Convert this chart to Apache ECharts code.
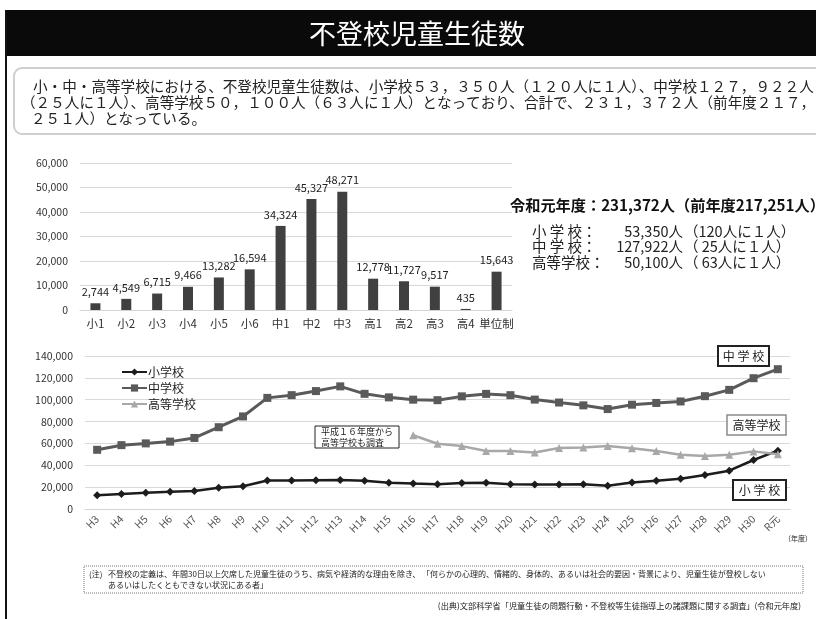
<!DOCTYPE html>
<html>
<head>
<meta charset="utf-8">
<script src="https://cdn.jsdelivr.net/npm/echarts@6/dist/echarts.min.js"></script>
<style>
  html, body { margin: 0; padding: 0; background: #fff; }
  #chart { width: 816px; height: 619px; }
</style>
</head>
<body>
<div id="chart"></div>
<script>
// 学年別 不登校児童生徒数（令和元年度）
const gradeCategories = ['小1','小2','小3','小4','小5','小6','中1','中2','中3','高1','高2','高3','高4','単位制'];
const gradeValues = [2744, 4549, 6715, 9466, 13282, 16594, 34324, 45327, 48271, 12778, 11727, 9517, 435, 15643];

// 年度別推移
const years = ['H3','H4','H5','H6','H7','H8','H9','H10','H11','H12','H13','H14','H15','H16','H17','H18','H19','H20','H21','H22','H23','H24','H25','H26','H27','H28','H29','H30','R元'];
const elementary = [12645, 13710, 14769, 15786, 16569, 19498, 20765, 26017, 26047, 26373, 26511, 25869, 24077, 23318, 22709, 23825, 23927, 22652, 22327, 22463, 22622, 21243, 24175, 25864, 27583, 31151, 35032, 44841, 53350];
const juniorHigh = [54172, 58421, 60039, 61663, 65022, 74853, 84701, 101675, 104180, 107913, 112211, 105383, 102149, 100040, 99578, 103069, 105328, 104153, 100105, 97428, 94836, 91446, 95442, 97033, 98408, 103235, 108999, 119687, 127922];
// 高等学校は平成16年度から調査
const highSchool = [null, null, null, null, null, null, null, null, null, null, null, null, null, 67500, 59680, 57544, 53041, 53024, 51728, 55776, 56361, 57664, 55655, 53156, 49563, 48565, 49643, 52723, 50100];

const JP = '"Noto Sans CJK JP", "Noto Sans", sans-serif';
const fmt = v => Number(v).toLocaleString('en-US');

const chart = echarts.init(document.getElementById('chart'), null, { renderer: 'canvas' });

function txt(x, y, text, size, opts) {
  opts = opts || {};
  return {
    type: 'text', x: x, y: y, z: 100,
    style: {
      text: text,
      font: (opts.weight || 'normal') + ' ' + size + 'px ' + JP,
      fill: opts.fill || '#222',
      textAlign: opts.align || 'left',
      textVerticalAlign: 'middle'
    }
  };
}

function box(x, y, w, h, stroke, lw, r, dash) {
  return {
    type: 'rect', z: 90,
    shape: { x: x, y: y, width: w, height: h, r: r || 0 },
    style: { fill: '#fff', stroke: stroke, lineWidth: lw, lineDash: dash || null }
  };
}

const graphics = [
  // frame line on the left
  { type: 'line', z: 100, shape: { x1: 6, y1: 10, x2: 6, y2: 619 }, style: { stroke: '#111', lineWidth: 2 } },
  // title bar
  { type: 'rect', z: 80, shape: { x: 5, y: 10, width: 811, height: 46 }, style: { fill: '#0a0a0a' } },
  txt(417, 34, '不登校児童生徒数', 27, { fill: '#fff', align: 'center' }),
  // summary box
  { type: 'rect', z: 80, shape: { x: 14, y: 68, width: 830, height: 66, r: 8 }, style: { fill: '#fff', stroke: '#cfcfcf', lineWidth: 2 } },
  txt(33, 86, '小・中・高等学校における、不登校児童生徒数は、小学校５３，３５０人（１２０人に１人）、中学校１２７，９２２人', 14.6),
  txt(21, 102, '（２５人に１人）、高等学校５０，１００人（６３人に１人）となっており、合計で、２３１，３７２人（前年度２１７，', 14.6),
  txt(31, 118, '２５１人）となっている。', 14.6),
  // totals beside the bar chart
  txt(510, 205, '令和元年度：231,372人（前年度217,251人）', 15.2, { weight: 'bold', fill: '#111' }),
  txt(532, 231, '小 学 校：', 14.5),
  txt(683, 231, '53,350人', 14.5, { align: 'right' }),
  txt(684, 231, '（120人に１人）', 14.5),
  txt(532, 246, '中 学 校：', 14.5),
  txt(683, 246, '127,922人', 14.5, { align: 'right' }),
  txt(684, 246, '（ 25人に１人）', 14.5),
  txt(532, 262, '高等学校：', 14.5),
  txt(683, 262, '50,100人', 14.5, { align: 'right' }),
  txt(684, 262, '（ 63人に１人）', 14.5),
  // line chart notes
  box(315, 426, 84, 22, '#222', 1),
  txt(321, 432, '平成１６年度から', 9),
  txt(321, 443, '高等学校も調査', 9),
  box(718, 346, 51, 20, '#222', 2),
  txt(743.5, 356, '中 学 校', 12, { align: 'center' }),
  box(727, 415, 59, 20, '#8a8a8a', 1.5),
  txt(756.5, 425, '高等学校', 12, { align: 'center' }),
  box(733, 480, 53, 20, '#222', 2),
  txt(759.5, 490, '小 学 校', 12, { align: 'center' }),
  txt(798, 538, '（年度）', 7, { align: 'center' }),
  // definition note
  box(84, 566, 719, 27, '#777', 1, 0, [1, 1]),
  txt(89, 574, '(注)', 8),
  txt(108, 574, '不登校の定義は、年間30日以上欠席した児童生徒のうち、病気や経済的な理由を除き、 「何らかの心理的、情緒的、身体的、あるいは社会的要因・背景により、児童生徒が登校しない', 8),
  txt(108, 585, 'あるいはしたくともできない状況にある者」', 8),
  txt(801, 606, '(出典)文部科学省「児童生徒の問題行動・不登校等生徒指導上の諸課題に関する調査」(令和元年度)', 8.2, { align: 'right' })
];

const option = {
  backgroundColor: '#fff',
  animation: false,
  textStyle: { fontFamily: JP },
  grid: [
    { left: 80, right: 304, top: 163, height: 147 },
    { left: 85, right: 26, top: 356, height: 153 }
  ],
  legend: {
    orient: 'vertical', left: 116, top: 361,
    itemWidth: 25, itemHeight: 9, itemGap: 4,
    textStyle: { fontSize: 12, color: '#222', fontFamily: JP, padding: [0, 0, 0, -4] },
    data: ['小学校', '中学校', '高等学校']
  },
  xAxis: [
    {
      type: 'category', gridIndex: 0, data: gradeCategories,
      axisLine: { show: true, lineStyle: { color: '#d4d4d4' } },
      axisTick: { show: false },
      axisLabel: { fontSize: 11.5, color: '#333', margin: 8, interval: 0 }
    },
    {
      type: 'category', gridIndex: 1, data: years,
      axisLine: { show: true, lineStyle: { color: '#d4d4d4' } },
      axisTick: { show: false },
      axisLabel: { fontSize: 10.5, color: '#555', rotate: 45, margin: 8, interval: 0 }
    }
  ],
  yAxis: [
    {
      type: 'value', gridIndex: 0, min: 0, max: 60000, interval: 10000,
      axisLine: { show: false }, axisTick: { show: false },
      splitLine: { lineStyle: { color: '#d9d9d9' } },
      axisLabel: { fontSize: 10.5, color: '#333', margin: 12, formatter: fmt }
    },
    {
      type: 'value', gridIndex: 1, min: 0, max: 140000, interval: 20000,
      axisLine: { show: false }, axisTick: { show: false },
      splitLine: { lineStyle: { color: '#d9d9d9' } },
      axisLabel: { fontSize: 10.5, color: '#333', margin: 12, formatter: fmt }
    }
  ],
  series: [
    {
      name: '学年別', type: 'bar', xAxisIndex: 0, yAxisIndex: 0,
      data: gradeValues, barWidth: 10,
      itemStyle: { color: '#404040' },
      label: { show: true, position: 'top', distance: 6, fontSize: 11, color: '#222', formatter: p => fmt(p.value) }
    },
    {
      name: '小学校', type: 'line', xAxisIndex: 1, yAxisIndex: 1,
      data: elementary, symbol: 'diamond', symbolSize: 8,
      lineStyle: { color: '#1c1c1c', width: 2.5 },
      itemStyle: { color: '#1c1c1c' }
    },
    {
      name: '中学校', type: 'line', xAxisIndex: 1, yAxisIndex: 1,
      data: juniorHigh, symbol: 'rect', symbolSize: 8,
      lineStyle: { color: '#5a5a5a', width: 3 },
      itemStyle: { color: '#5a5a5a' }
    },
    {
      name: '高等学校', type: 'line', xAxisIndex: 1, yAxisIndex: 1,
      data: highSchool, symbol: 'triangle', symbolSize: 8,
      lineStyle: { color: '#a8a8a8', width: 2.5 },
      itemStyle: { color: '#a8a8a8' }
    }
  ],
  graphic: graphics
};

chart.setOption(option);
</script>
</body>
</html>
